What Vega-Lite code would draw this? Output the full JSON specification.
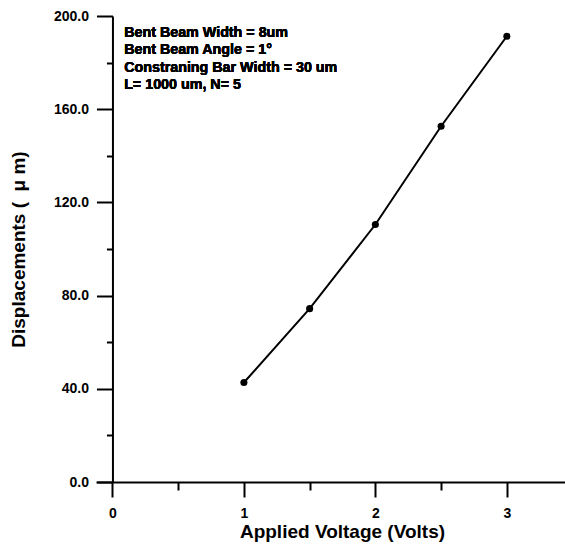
{
  "$schema": "https://vega.github.io/schema/vega-lite/v6.json",
  "autosize": "none",
  "padding": {"left": 96, "top": 16, "right": 0, "bottom": 63},
  "width": 470,
  "height": 466,
  "background": "white",
  "config": {
    "view": {"stroke": null},
    "font": "Liberation Sans",
    "axis": {
      "grid": false,
      "domainColor": "black",
      "domainWidth": 2,
      "tickColor": "black",
      "tickWidth": 2,
      "labelFont": "Liberation Sans",
      "labelFontWeight": "bold",
      "labelFontSize": 14,
      "labelColor": "black",
      "titleFont": "Liberation Sans",
      "titleFontWeight": "bold",
      "titleFontSize": 19,
      "titleColor": "black"
    }
  },
  "data": {
    "values": [
      {"voltage": 1, "displacement": 42.7},
      {"voltage": 1.5, "displacement": 74.4},
      {"voltage": 2, "displacement": 110.5},
      {"voltage": 2.5, "displacement": 152.7},
      {"voltage": 3, "displacement": 191.3}
    ]
  },
  "layer": [
    {
      "mark": {"type": "line", "color": "black", "strokeWidth": 2},
      "encoding": {
        "x": {
          "field": "voltage",
          "type": "quantitative",
          "scale": {"domain": [-0.125, 3.45], "nice": false, "zero": false},
          "axis": {
            "title": "Applied Voltage (Volts)",
            "values": [0, 0.5, 1, 1.5, 2, 2.5, 3],
            "labelExpr": "datum.value % 1 === 0 ? format(datum.value, 'd') : ''",
            "tickSize": {"condition": {"test": "datum.value % 1 === 0", "value": 15}, "value": 8},
            "labelPadding": 9,
            "labelFlush": false,
            "titlePadding": 2,
            "titleX": 246,
            "titleAnchor": "middle"
          }
        },
        "y": {
          "field": "displacement",
          "type": "quantitative",
          "scale": {"domain": [0, 200], "nice": false},
          "axis": {
            "title": "Displacements (\u00a0\u00a0μ m)",
            "offset": -16.45,
            "values": [0, 20, 40, 60, 80, 100, 120, 140, 160, 180, 200],
            "labelExpr": "datum.value % 40 === 0 ? format(datum.value, '.1f') : ''",
            "tickSize": {"condition": {"test": "datum.value % 40 === 0", "value": 16}, "value": 6},
            "labelPadding": 8,
            "labelFlush": false,
            "titlePadding": 25
          }
        }
      }
    },
    {
      "mark": {"type": "circle", "color": "black", "opacity": 1, "size": 50},
      "encoding": {
        "x": {"field": "voltage", "type": "quantitative"},
        "y": {"field": "displacement", "type": "quantitative"}
      }
    },
    {
      "mark": {
        "type": "text",
        "align": "left",
        "baseline": "alphabetic",
        "font": "Liberation Sans",
        "fontWeight": "bold",
        "fontSize": 14.3,
        "lineHeight": 17.3,
        "color": "black",
        "text": ["Bent Beam Width = 8um", "Bent Beam Angle = 1°", "Constraning Bar Width = 30 um", "L= 1000 um, N= 5"]
      },
      "encoding": {
        "x": {"datum": 0.089, "type": "quantitative"},
        "y": {"datum": 191, "type": "quantitative"}
      }
    }
  ]
}
